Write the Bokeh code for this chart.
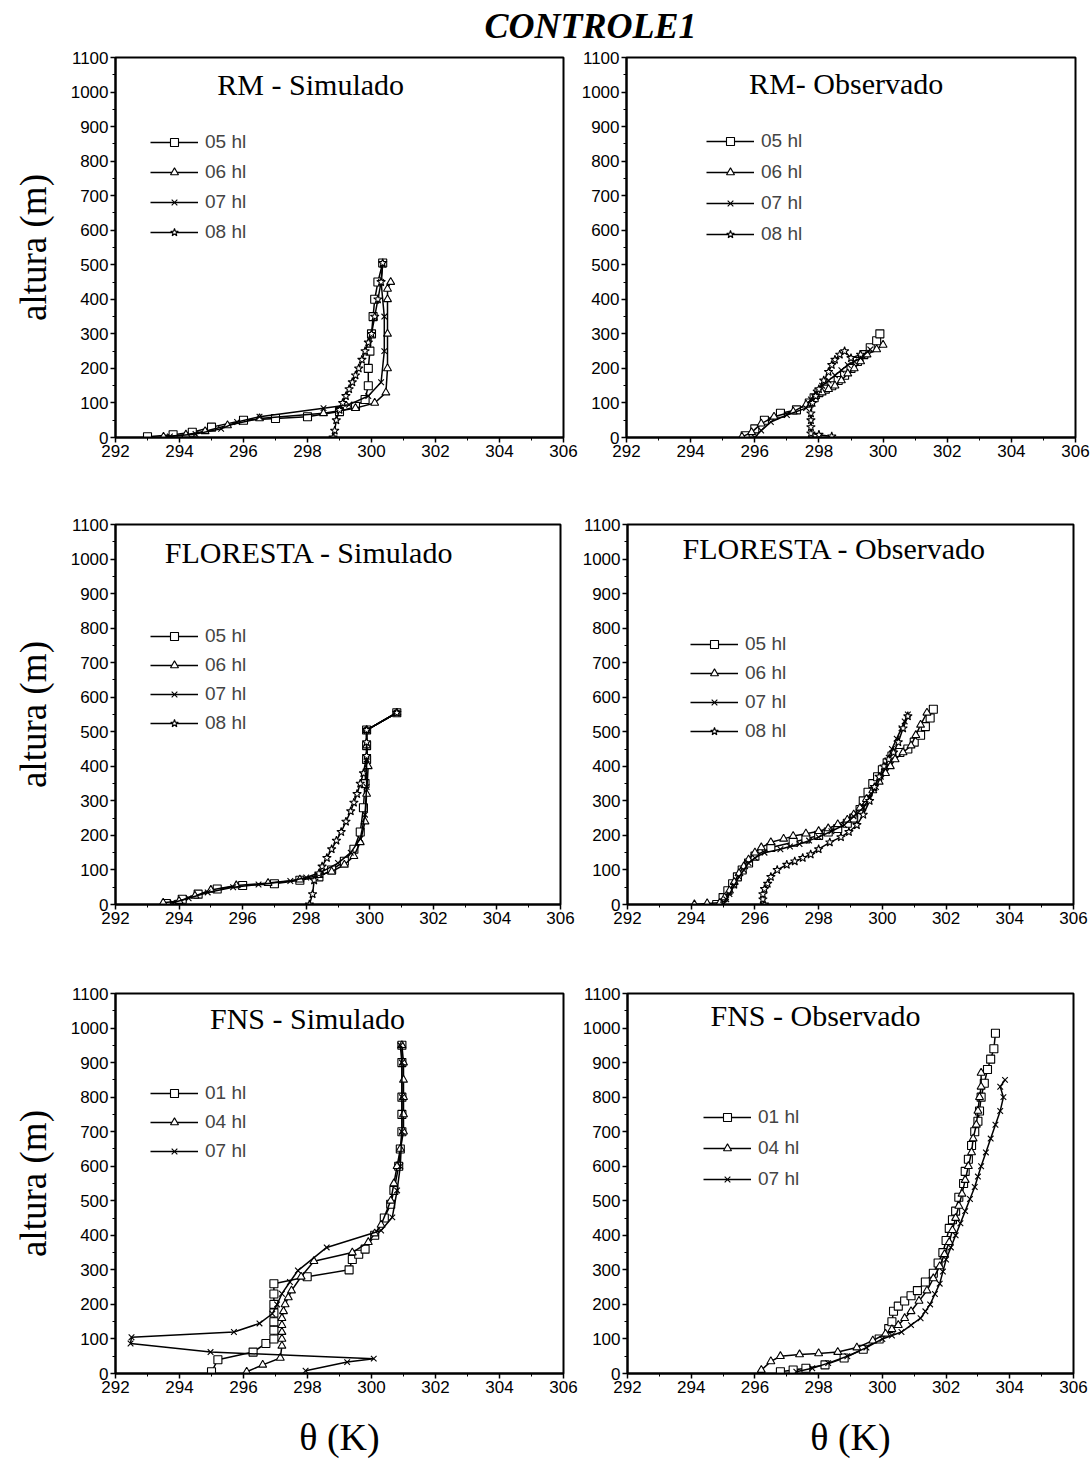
from bokeh.plotting import figure
from bokeh.models import Range1d, SingleIntervalTicker, Legend, LegendItem, Label
from bokeh.layouts import column, row
from bokeh.embed import file_html
from bokeh.resources import INLINE

# ---------------- data (theta in K, height in m) ----------------
x_ticks_start, x_ticks_end = 292, 306
y_ticks_start, y_ticks_end = 0, 1100

# RM - Simulado
rm_sim_05_t = [293.0, 293.8, 294.4, 295.0, 296.0, 297.0, 298.0, 299.0, 299.5, 299.8, 299.9, 299.9, 299.95, 300.0, 300.05, 300.1, 300.2, 300.35]
rm_sim_05_z = [2, 8, 15, 30, 50, 55, 60, 75, 90, 110, 150, 200, 250, 300, 350, 400, 450, 505]
rm_sim_06_t = [293.5, 294.2, 294.8, 295.5, 296.5, 298.5, 299.5, 300.1, 300.45, 300.5, 300.5, 300.5, 300.5, 300.6]
rm_sim_06_z = [2, 8, 18, 35, 55, 70, 85, 100, 130, 200, 300, 400, 430, 450]
rm_sim_07_t = [293.7, 294.5, 295.3, 295.8, 296.5, 298.5, 299.3, 299.9, 300.3, 300.4, 300.4, 300.3, 300.35]
rm_sim_07_z = [3, 10, 25, 45, 60, 85, 95, 120, 160, 250, 350, 450, 500]
rm_sim_08_t = [298.8, 298.85, 298.9, 299.0, 299.1, 299.2, 299.3, 299.4, 299.5, 299.6, 299.7, 299.8, 299.9, 300.0, 300.1, 300.2, 300.3, 300.35]
rm_sim_08_z = [0, 20, 50, 80, 100, 120, 140, 160, 180, 200, 225, 250, 275, 300, 350, 400, 450, 505]

# RM - Observado
rm_obs_05_t = [295.7, 296.0, 296.3, 296.8, 297.3, 297.7, 297.85, 298.0, 298.2, 298.4, 298.6, 298.8, 299.0, 299.2, 299.4, 299.6, 299.8, 299.9]
rm_obs_05_z = [5, 25, 50, 70, 80, 100, 115, 130, 140, 150, 165, 180, 200, 220, 240, 260, 280, 300]
rm_obs_06_t = [295.6, 295.9, 296.2, 296.6, 297.2, 297.6, 297.9, 298.1, 298.3, 298.5, 298.7, 298.9, 299.1, 299.3, 299.5, 299.8, 300.0]
rm_obs_06_z = [2, 15, 40, 60, 75, 95, 120, 130, 140, 150, 165, 185, 200, 220, 240, 255, 268]
rm_obs_07_t = [296.0, 296.2, 296.5, 297.0, 297.6, 297.75, 297.9, 298.1, 298.3, 298.5, 298.7, 298.9, 299.1, 299.3, 299.6]
rm_obs_07_z = [0, 20, 45, 65, 85, 110, 130, 150, 165, 180, 195, 210, 220, 230, 255]
rm_obs_08_t = [298.4, 298.0, 297.75, 297.75, 297.75, 297.75, 297.8, 297.9, 298.0, 298.15, 298.3, 298.4, 298.5, 298.65, 298.8, 299.0, 299.3]
rm_obs_08_z = [3, 8, 12, 30, 50, 70, 100, 120, 140, 165, 190, 210, 225, 240, 250, 230, 240]

# FLORESTA - Simulado
fl_sim_05_t = [293.6, 294.1, 294.6, 295.2, 296.0, 297.0, 297.8, 298.4, 298.8, 299.2, 299.5, 299.7, 299.8, 299.85, 299.9, 299.9, 299.9, 300.85]
fl_sim_05_z = [3, 15, 30, 45, 55, 60, 70, 80, 100, 125, 160, 210, 280, 350, 420, 460, 505, 555]
fl_sim_06_t = [293.5, 294.0, 294.5, 295.0, 295.8, 296.8, 297.8, 298.4, 298.8, 299.2, 299.5, 299.7, 299.85, 299.9, 299.95, 299.9, 299.9, 300.85]
fl_sim_06_z = [5, 10, 25, 42, 55, 62, 72, 85, 95, 115, 140, 180, 240, 320, 400, 460, 505, 555]
fl_sim_07_t = [293.8, 294.3, 294.9, 295.7, 296.5, 297.5, 298.0, 298.5, 299.0, 299.4, 299.7, 299.85, 299.9, 299.9, 299.9, 300.85]
fl_sim_07_z = [5, 18, 35, 50, 58, 68, 78, 95, 120, 150, 190, 260, 340, 420, 505, 555]
fl_sim_08_t = [298.1, 298.2, 298.25, 298.4, 298.5, 298.65, 298.8, 298.95, 299.1, 299.25, 299.4, 299.5, 299.6, 299.7, 299.8, 299.9, 299.9, 299.9, 300.85]
fl_sim_08_z = [0, 30, 70, 90, 110, 135, 160, 185, 210, 240, 270, 295, 320, 350, 380, 430, 470, 505, 555]

# FLORESTA - Observado
fl_obs_05_t = [294.8, 295.0, 295.15, 295.3, 295.45, 295.6, 295.8, 296.0, 296.5, 297.2, 297.6, 298.0, 298.3, 298.6, 298.9, 299.1, 299.3, 299.4, 299.55, 299.7, 299.85, 300.0, 300.15, 300.3, 300.55, 300.8, 301.0, 301.2, 301.35, 301.5, 301.6]
fl_obs_05_z = [0, 20, 40, 60, 80, 100, 120, 140, 165, 180, 190, 200, 210, 220, 235, 250, 275, 300, 325, 350, 370, 390, 410, 430, 440, 450, 470, 490, 515, 540, 565]
fl_obs_06_t = [294.1, 294.5, 294.9, 295.05, 295.2, 295.35, 295.5, 295.65, 295.8, 296.0, 296.2, 296.5, 296.9, 297.2, 297.6, 298.0, 298.3, 298.6, 298.9, 299.1, 299.3, 299.5, 299.7, 299.9, 300.1, 300.25, 300.4, 300.65, 300.9, 301.05, 301.2, 301.4]
fl_obs_06_z = [0, 3, 5, 20, 40, 65, 90, 110, 130, 150, 165, 180, 190, 198, 205, 212, 220, 232, 245, 260, 280, 305, 330, 355, 380, 400, 420, 440, 460, 490, 520, 555]
fl_obs_07_t = [295.0, 295.1, 295.2, 295.35, 295.5, 295.65, 295.8, 296.0, 296.3, 296.8, 297.1, 297.4, 297.7, 298.0, 298.4, 298.8, 299.1, 299.4, 299.6, 299.8, 299.95, 300.1, 300.2, 300.3, 300.45, 300.6, 300.7, 300.8]
fl_obs_07_z = [0, 15, 30, 55, 80, 100, 120, 135, 150, 160, 168, 175, 185, 195, 212, 230, 255, 280, 310, 340, 370, 400, 425, 450, 480, 510, 530, 550]
fl_obs_08_t = [296.3, 296.25, 296.25, 296.3, 296.4, 296.5, 296.7, 297.0, 297.25, 297.5, 297.75, 298.0, 298.35, 298.7, 298.95, 299.2, 299.4, 299.6, 299.75, 299.9, 300.05, 300.2, 300.35, 300.5, 300.65, 300.8]
fl_obs_08_z = [0, 15, 30, 45, 60, 80, 100, 115, 125, 135, 145, 160, 180, 195, 210, 230, 260, 300, 340, 370, 400, 420, 440, 470, 510, 545]

# FNS - Simulado
fns_sim_01_t = [295.0, 295.2, 296.3, 296.7, 296.95, 296.95, 296.95, 296.95, 296.95, 296.95, 296.95, 297.99, 299.3, 299.4, 299.6, 299.8, 300.1, 300.4, 300.6, 300.7, 300.85, 300.9, 300.95, 300.95, 300.95, 300.95, 300.95]
fns_sim_01_z = [5, 40, 62, 87, 100, 125, 150, 175, 200, 230, 260, 280, 300, 330, 345, 360, 400, 450, 490, 530, 600, 650, 700, 750, 800, 900, 950]
fns_sim_04_t = [296.1, 296.6, 297.15, 297.2, 297.2, 297.2, 297.2, 297.2, 297.25, 297.3, 297.4, 297.5, 297.8, 298.2, 299.4, 299.9, 300.1, 300.3, 300.6, 300.7, 300.8, 300.9, 301.0, 301.0, 301.0, 301.0, 301.0, 300.95]
fns_sim_04_z = [5, 25, 45, 80, 100, 120, 140, 160, 180, 200, 220, 240, 280, 325, 350, 380, 405, 430, 500, 550, 600, 650, 700, 750, 800, 850, 900, 950]
fns_sim_07_t = [297.94, 299.24, 300.07, 294.97, 292.47, 292.5, 295.7, 296.5, 296.9, 297.05, 297.2, 297.45, 297.7, 298.6, 300.3, 300.65, 300.8, 300.9, 300.95, 300.95, 300.95, 300.9]
fns_sim_07_z = [8, 33, 43, 62, 87, 105, 120, 145, 173, 200, 231, 265, 298, 365, 414, 452, 530, 600, 700, 800, 900, 950]

# FNS - Observado
fns_obs_01_t = [296.8, 297.2, 297.6, 298.2, 298.8, 299.4, 299.9, 300.2, 300.3, 300.35, 300.5, 300.7, 300.9, 301.1, 301.35, 301.6, 301.75, 301.9, 302.0, 302.1, 302.2, 302.3, 302.4, 302.55, 302.6, 302.7, 302.8, 302.9, 303.0, 303.05, 303.1, 303.2, 303.3, 303.4, 303.5, 303.55]
fns_obs_01_z = [5, 10, 15, 25, 45, 70, 100, 130, 150, 180, 195, 210, 225, 240, 265, 290, 320, 350, 385, 420, 445, 470, 510, 550, 585, 620, 660, 700, 730, 760, 800, 840, 880, 910, 940, 985]
fns_obs_04_t = [296.2, 296.5, 296.8, 297.4, 298.0, 298.6, 299.2, 299.7, 300.1, 300.3, 300.5, 300.7, 300.9, 301.15, 301.4, 301.6, 301.8, 301.95, 302.1, 302.2, 302.3, 302.4, 302.5, 302.6, 302.7, 302.8, 302.85, 302.95, 303.0, 303.05, 303.1, 303.1]
fns_obs_04_z = [10, 35, 50, 55, 58, 62, 75, 95, 115, 128, 140, 160, 180, 210, 240, 275, 310, 345, 380, 415, 450, 485, 520, 560, 600, 640, 680, 720, 760, 800, 830, 870]
fns_obs_07_t = [297.3, 297.8, 298.3, 298.9, 299.5, 300.0, 300.3, 300.6, 300.9, 301.2, 301.35, 301.5, 301.65, 301.8, 301.9, 302.0, 302.15, 302.3, 302.45, 302.6, 302.75, 302.9, 303.0, 303.1, 303.25, 303.4, 303.55, 303.7, 303.8, 303.7, 303.85]
fns_obs_07_z = [5, 15, 30, 50, 75, 100, 110, 120, 140, 160, 180, 200, 230, 260, 295, 330, 365, 400, 435, 470, 505, 540, 570, 600, 640, 680, 720, 760, 800, 830, 850]

labels_4 = ["05 hl", "06 hl", "07 hl", "08 hl"]
labels_3 = ["01 hl", "04 hl", "07 hl"]
markers_4 = ["square", "triangle", "x", "star"]
markers_3 = ["square", "triangle", "x"]

TICK_FONT = "Liberation Sans"
SERIF = "Liberation Serif"


def make_panel(series, labels, markers, title, title_pos, leg_loc, leg_spacing,
               width, height, mb_left, mb_right, mb_top, mb_bottom, ylabel, xlabel):
    p = figure(width=width, height=height, output_backend="svg", toolbar_location=None,
               x_range=Range1d(x_ticks_start, x_ticks_end),
               y_range=Range1d(y_ticks_start, y_ticks_end),
               min_border_left=mb_left, min_border_right=mb_right,
               min_border_top=mb_top, min_border_bottom=mb_bottom)
    p.xgrid.visible = False
    p.ygrid.visible = False
    p.background_fill_color = "white"
    p.border_fill_color = "white"
    p.outline_line_color = "black"
    p.outline_line_width = 2
    p.xaxis.ticker = SingleIntervalTicker(interval=2, num_minor_ticks=2)
    p.yaxis.ticker = SingleIntervalTicker(interval=100, num_minor_ticks=2)
    for ax in (p.xaxis[0], p.yaxis[0]):
        ax.axis_line_width = 2
        ax.axis_line_color = "black"
        ax.major_tick_line_color = "black"
        ax.major_tick_line_width = 1.5
        ax.major_tick_out = 5
        ax.major_tick_in = 0
        ax.minor_tick_line_color = "black"
        ax.minor_tick_line_width = 1
        ax.minor_tick_out = 3
        ax.minor_tick_in = 0
        ax.major_label_text_font = TICK_FONT
        ax.major_label_text_font_size = "17px"
        ax.major_label_text_color = "black"
        ax.major_label_standoff = 2
        ax.axis_label_text_font = SERIF
        ax.axis_label_text_font_style = "normal"
        ax.axis_label_text_color = "black"
    if ylabel:
        p.yaxis.axis_label = ylabel
        p.yaxis.axis_label_text_font_size = "37px"
        p.yaxis.axis_label_standoff = 14
    if xlabel:
        p.xaxis.axis_label = xlabel
        p.xaxis.axis_label_text_font_size = "38px"
        p.xaxis.axis_label_standoff = 20

    items = []
    for (t, z), lab, mk in zip(series, labels, markers):
        lr = p.line(t, z, line_color="black", line_width=1.5)
        sr = p.scatter(t, z, marker=mk, size=9 if mk == "star" else 8,
                       line_color="black", line_width=1.1, fill_color="white")
        items.append(LegendItem(label=lab, renderers=[lr, sr]))
    leg = Legend(items=items, location=leg_loc, spacing=leg_spacing,
                 padding=0, margin=0, glyph_width=48, glyph_height=20,
                 label_height=20, label_standoff=7,
                 label_text_font=TICK_FONT, label_text_font_size="19px",
                 background_fill_alpha=0, border_line_alpha=0)
    p.add_layout(leg)

    p.add_layout(Label(x=title_pos[0], y=title_pos[1], text=title,
                       text_font=SERIF, text_font_size="30px",
                       text_align="center", text_baseline="middle",
                       text_color="black"))
    return p


LW = 578
RW = 1092 - LW
TH = 45

p1 = make_panel([(rm_sim_05_t, rm_sim_05_z), (rm_sim_06_t, rm_sim_06_z),
                 (rm_sim_07_t, rm_sim_07_z), (rm_sim_08_t, rm_sim_08_z)],
                labels_4, markers_4, "RM - Simulado", (298.1, 1022), (35, 194), 8,
                LW, 500 - TH, 115, LW - 115 - 448, 12, 63, "altura (m)", None)
p2 = make_panel([(rm_obs_05_t, rm_obs_05_z), (rm_obs_06_t, rm_obs_06_z),
                 (rm_obs_07_t, rm_obs_07_z), (rm_obs_08_t, rm_obs_08_z)],
                labels_4, markers_4, "RM- Observado", (298.85, 1025), (80, 192), 9,
                RW, 500 - TH, 45, RW - 45 - 452, 12, 63, None, None)
p3 = make_panel([(fl_sim_05_t, fl_sim_05_z), (fl_sim_06_t, fl_sim_06_z),
                 (fl_sim_07_t, fl_sim_07_z), (fl_sim_08_t, fl_sim_08_z)],
                labels_4, markers_4, "FLORESTA - Simulado", (298.1, 1019), (35, 170), 7,
                LW, 470, 115, LW - 115 - 445, 24, 66, "altura (m)", None)
p4 = make_panel([(fl_obs_05_t, fl_obs_05_z), (fl_obs_06_t, fl_obs_06_z),
                 (fl_obs_07_t, fl_obs_07_z), (fl_obs_08_t, fl_obs_08_z)],
                labels_4, markers_4, "FLORESTA - Observado", (298.5, 1030), (63, 162), 7,
                RW, 470, 49, RW - 49 - 446, 24, 66, None, None)
p5 = make_panel([(fns_sim_01_t, fns_sim_01_z), (fns_sim_04_t, fns_sim_04_z),
                 (fns_sim_07_t, fns_sim_07_z)],
                labels_3, markers_3, "FNS - Simulado", (298.0, 1028), (35, 211), 7,
                LW, 493, 115, LW - 115 - 448, 23, 90, "altura (m)", "θ (K)")
p6 = make_panel([(fns_obs_01_t, fns_obs_01_z), (fns_obs_04_t, fns_obs_04_z),
                 (fns_obs_07_t, fns_obs_07_z)],
                labels_3, markers_3, "FNS - Observado", (297.9, 1036), (76, 183), 9,
                RW, 493, 49, RW - 49 - 446, 23, 90, None, "θ (K)")

# overall title
pt = figure(width=1092, height=TH, output_backend="svg", toolbar_location=None,
            x_range=Range1d(0, 1092), y_range=Range1d(0, TH),
            min_border_left=0, min_border_right=0, min_border_top=0, min_border_bottom=0)
pt.axis.visible = False
pt.grid.visible = False
pt.outline_line_color = None
pt.add_layout(Label(x=590, y=TH - 25, text="CONTROLE1", text_font=SERIF,
                    text_font_size="36px", text_font_style="bold italic",
                    text_align="center", text_baseline="middle", text_color="black"))

layout = column(pt, row(p1, p2), row(p3, p4), row(p5, p6))

with open("out.html", "w") as f:
    f.write(file_html(layout, INLINE))
